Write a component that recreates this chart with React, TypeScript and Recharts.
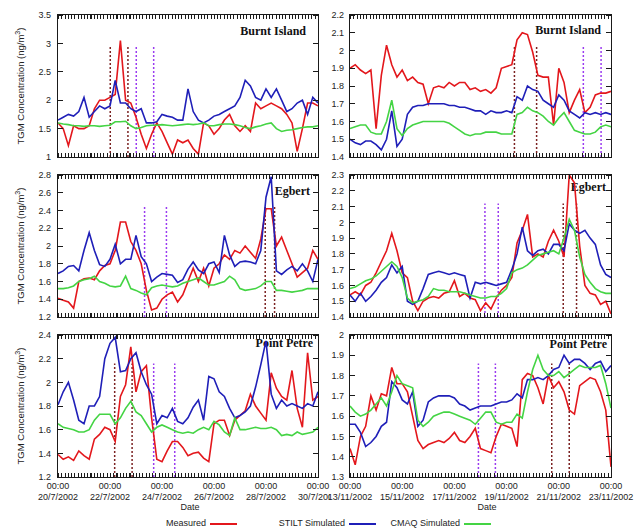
import React from "react";
import { LineChart, Line, XAxis, YAxis, ReferenceLine } from "recharts";

const RED = "#e3171c";
const BLUE = "#1f1fb8";
const GREEN = "#44d444";
const EVENT_RED = "#7b2222";
const EVENT_PURPLE = "#9a3cf0";
const INK = "#1a1a1a";
const SANS = '"Liberation Sans", Arial, sans-serif';
const PLOT_H = 142;

// x axis: days since the first 00:00 tick, samples every 0.2 day
const dayTicks = [0, 2, 4, 6, 8, 10];
const summerDates = ["20/7/2002", "22/7/2002", "24/7/2002", "26/7/2002", "28/7/2002", "30/7/2002"];
const autumnDates = ["13/11/2002", "15/11/2002", "17/11/2002", "19/11/2002", "21/11/2002", "23/11/2002"];
const MINOR_PER_AXIS = 80; // 3-hourly marks along top and bottom

// Burnt Island, July
const burntSumMeasured = [1.6, 1.5, 1.2, 1.55, 1.5, 1.5, 1.55, 1.85, 2.0, 2.0, 2.05, 2.1, 3.05, 2.0, 1.95, 1.7, 1.4, 1.15, 1.4, 1.6, 1.45, 1.25, 1.05, 1.3, 1.25, 1.3, 1.15, 1.05, 1.6, 1.55, 1.4, 1.5, 1.65, 1.75, 1.55, 1.45, 1.55, 1.45, 1.95, 1.85, 1.9, 1.95, 1.9, 1.85, 1.75, 1.6, 1.1, 1.5, 1.95, 1.95, 1.9];
const burntSumStilt = [1.65, 1.7, 1.75, 1.72, 1.8, 2.05, 1.7, 1.8, 1.9, 1.85, 1.9, 2.35, 1.95, 1.95, 1.85, 1.8, 1.85, 1.6, 1.6, 1.62, 1.75, 1.72, 1.7, 1.65, 1.65, 2.2, 1.8, 1.65, 1.6, 1.65, 1.72, 1.75, 1.8, 1.85, 1.9, 2.05, 2.35, 2.25, 2.05, 2.0, 2.2, 2.05, 2.2, 2.0, 1.8, 1.85, 1.95, 2.0, 1.75, 2.05, 1.95];
const burntSumCmaq = [1.6, 1.58, 1.57, 1.55, 1.55, 1.54, 1.55, 1.55, 1.54, 1.55, 1.56, 1.62, 1.62, 1.63, 1.55, 1.5, 1.52, 1.55, 1.56, 1.56, 1.57, 1.56, 1.55, 1.56, 1.57, 1.58, 1.57, 1.58, 1.6, 1.55, 1.55, 1.57, 1.58, 1.58, 1.57, 1.55, 1.52, 1.5, 1.53, 1.55, 1.58, 1.6, 1.5, 1.45, 1.47, 1.48, 1.5, 1.52, 1.53, 1.53, 1.55];
const burntSumRed = [2.01, 2.69];
const burntSumPurple = [3.01, 3.68];

// Burnt Island, November
const burntNovMeasured = [1.9, 1.92, 1.89, 1.87, 1.89, 1.56, 1.86, 2.03, 1.92, 1.85, 1.89, 1.83, 1.85, 1.82, 1.81, 1.7, 1.79, 1.8, 1.79, 1.82, 1.8, 1.82, 1.82, 1.78, 1.79, 1.77, 1.78, 1.76, 1.79, 1.9, 1.91, 1.92, 2.06, 2.1, 2.09, 1.99, 1.86, 1.85, 1.85, 1.58, 1.9, 1.82, 1.65, 1.72, 1.78, 1.65, 1.68, 1.75, 1.76, 1.76, 1.77];
const burntNovStilt = [1.5, 1.48, 1.47, 1.49, 1.49, 1.47, 1.44, 1.5, 1.66, 1.46, 1.5, 1.64, 1.68, 1.69, 1.69, 1.7, 1.7, 1.7, 1.7, 1.69, 1.69, 1.68, 1.68, 1.67, 1.66, 1.66, 1.64, 1.66, 1.65, 1.65, 1.66, 1.65, 1.74, 1.72, 1.8, 1.78, 1.77, 1.72, 1.7, 1.68, 1.75, 1.72, 1.66, 1.64, 1.62, 1.65, 1.64, 1.65, 1.64, 1.65, 1.64];
const burntNovCmaq = [1.56, 1.57, 1.58, 1.58, 1.54, 1.53, 1.53, 1.6, 1.72, 1.56, 1.52, 1.56, 1.58, 1.59, 1.6, 1.6, 1.6, 1.6, 1.6, 1.59, 1.57, 1.55, 1.53, 1.52, 1.53, 1.53, 1.54, 1.54, 1.54, 1.53, 1.53, 1.53, 1.64, 1.65, 1.68, 1.66, 1.65, 1.63, 1.6, 1.58, 1.62, 1.65, 1.6, 1.55, 1.54, 1.53, 1.53, 1.54, 1.57, 1.58, 1.57];
const burntNovRed = [6.3, 7.15];
const burntNovPurple = [8.94, 9.62];

// Egbert, July
const egbertSumMeasured = [1.41, 1.39, 1.37, 1.3, 1.6, 1.63, 1.64, 1.62, 1.72, 1.78, 1.8, 1.95, 2.27, 2.27, 2.05, 1.95, 1.8, 1.5, 1.28, 1.3, 1.4, 1.45, 1.48, 1.37, 1.45, 1.6, 1.75, 1.6, 1.75, 1.55, 1.75, 1.8, 1.9, 1.85, 1.95, 1.92, 2.0, 1.93, 1.86, 2.08, 2.42, 2.42, 2.0, 2.1, 1.95, 1.8, 1.65, 1.7, 1.75, 1.95, 1.85];
const egbertSumStilt = [1.69, 1.72, 1.77, 1.78, 1.72, 1.95, 2.15, 1.95, 1.79, 1.77, 1.85, 2.02, 1.8, 1.85, 1.85, 2.12, 1.88, 1.8, 1.6, 1.65, 1.69, 1.68, 1.67, 1.59, 1.62, 1.74, 1.82, 1.73, 1.69, 1.8, 1.82, 1.7, 2.12, 1.9, 1.77, 1.82, 1.83, 1.82, 1.8, 1.95, 2.55, 2.78, 1.72, 1.68, 1.73, 1.77, 1.72, 1.8, 1.72, 1.6, 1.85];
const egbertSumCmaq = [1.52, 1.52, 1.53, 1.55, 1.6, 1.62, 1.63, 1.66, 1.6, 1.58, 1.55, 1.54, 1.55, 1.66, 1.52, 1.5, 1.47, 1.45, 1.53, 1.55, 1.56, 1.55, 1.54, 1.55, 1.58, 1.6, 1.62, 1.64, 1.6, 1.56, 1.56, 1.58, 1.6, 1.66, 1.62, 1.52, 1.5, 1.51, 1.52, 1.55, 1.6, 1.6, 1.5, 1.5, 1.49, 1.48, 1.49, 1.5, 1.52, 1.52, 1.52];
const egbertSumRed = [7.97, 8.33];
const egbertSumPurple = [3.33, 4.17];

// Egbert, November
const egbertNovMeasured = [1.54, 1.56, 1.54, 1.6, 1.62, 1.68, 1.75, 1.82, 1.93, 1.82, 1.68, 1.65, 1.5, 1.44, 1.5, 1.52, 1.53, 1.52, 1.55, 1.56, 1.63, 1.53, 1.55, 1.52, 1.51, 1.44, 1.49, 1.45, 1.52, 1.57, 1.6, 1.65, 1.87, 1.95, 2.05, 1.78, 1.8, 1.78, 1.88, 1.95, 1.88, 1.78, 2.3, 2.25, 1.85, 1.6, 1.55, 1.54, 1.48, 1.5, 1.42];
const egbertNovStilt = [1.54, 1.5, 1.55, 1.5, 1.53, 1.57, 1.62, 1.65, 1.73, 1.68, 1.72, 1.5, 1.48, 1.5, 1.58, 1.67, 1.68, 1.69, 1.68, 1.67, 1.68, 1.67, 1.66, 1.52, 1.62, 1.61, 1.62, 1.61, 1.6, 1.61, 1.62, 1.7, 1.8, 1.97, 1.82, 1.79, 1.82, 1.83, 1.8, 1.86, 1.86, 1.82, 1.99, 1.95, 1.93, 1.95, 1.9, 1.86, 1.73, 1.67, 1.65];
const egbertNovCmaq = [1.58, 1.59, 1.61, 1.63, 1.64, 1.66, 1.69, 1.72, 1.75, 1.72, 1.65, 1.52, 1.49, 1.5, 1.51, 1.53, 1.58, 1.57, 1.57, 1.56, 1.56, 1.56, 1.55, 1.54, 1.53, 1.52, 1.52, 1.53, 1.53, 1.55, 1.58, 1.68, 1.7, 1.71, 1.73, 1.76, 1.79, 1.8, 1.81, 1.82, 1.8, 1.9, 2.02, 1.95, 1.78, 1.67, 1.62, 1.58, 1.56, 1.55, 1.55];
const egbertNovRed = [8.17, 8.68];
const egbertNovPurple = [5.17, 5.68];

// Point Petre, July
const petreSumMeasured = [1.39, 1.35, 1.37, 1.34, 1.42, 1.38, 1.35, 1.52, 1.56, 1.62, 1.6, 1.5, 1.88, 1.98, 2.3, 1.92, 2.09, 2.14, 1.7, 1.35, 1.33, 1.42, 1.5, 1.5, 1.45, 1.38, 1.4, 1.41, 1.36, 1.33, 1.65, 1.68, 1.68, 1.55, 1.68, 1.72, 1.76, 1.9, 1.8, 1.74, 1.68, 2.08, 1.95, 1.88, 1.85, 2.1, 1.78, 1.62, 2.25, 1.85, 1.88];
const petreSumStilt = [1.81, 1.92, 2.0, 1.85, 1.68, 1.65, 1.8, 1.8, 1.88, 2.2, 2.33, 2.38, 2.09, 2.1, 2.2, 2.25, 2.09, 1.98, 1.9, 1.65, 1.72, 1.7, 1.78, 1.67, 1.65, 1.7, 1.79, 1.85, 1.68, 2.05, 2.03, 1.92, 1.88, 1.78, 1.7, 1.72, 1.75, 1.8, 1.96, 2.15, 2.35, 1.9, 1.78, 1.85, 1.8, 1.82, 1.8, 1.78, 1.82, 1.8, 1.92];
const petreSumCmaq = [1.65, 1.62, 1.61, 1.6, 1.58, 1.58, 1.6, 1.68, 1.73, 1.73, 1.73, 1.65, 1.7, 1.78, 1.84, 1.75, 1.72, 1.65, 1.58, 1.62, 1.64, 1.62, 1.6, 1.58, 1.57, 1.58, 1.57, 1.6, 1.62, 1.6, 1.67, 1.64, 1.58, 1.55, 1.7, 1.6, 1.6, 1.61, 1.62, 1.61, 1.61, 1.62, 1.6, 1.55, 1.56, 1.55, 1.58, 1.56, 1.57, 1.58, 1.62];
const petreSumRed = [2.18, 2.85];
const petreSumPurple = [3.68, 4.49];

// Point Petre, November
const petreNovMeasured = [1.44, 1.36, 1.5, 1.55, 1.7, 1.63, 1.71, 1.7, 1.84, 1.76, 1.76, 1.72, 1.6, 1.48, 1.44, 1.46, 1.47, 1.48, 1.47, 1.49, 1.52, 1.48, 1.47, 1.5, 1.54, 1.44, 1.43, 1.42, 1.5, 1.56, 1.55, 1.54, 1.45, 1.78, 1.81, 1.8, 1.74, 1.66, 1.8, 1.74, 1.77, 1.72, 1.63, 1.61, 1.75, 1.77, 1.79, 1.78, 1.72, 1.63, 1.35];
const petreNovStilt = [1.56, 1.56, 1.52, 1.45, 1.47, 1.5, 1.55, 1.57, 1.77, 1.74, 1.68, 1.66, 1.72, 1.55, 1.58, 1.67, 1.69, 1.7, 1.7, 1.7, 1.69, 1.66, 1.65, 1.63, 1.64, 1.65, 1.65, 1.65, 1.66, 1.67, 1.67, 1.68, 1.71, 1.69, 1.78, 1.78, 1.79, 1.78, 1.8, 1.83, 1.84, 1.9, 1.86, 1.88, 1.88, 1.86, 1.83, 1.86, 1.87, 1.82, 1.85];
const petreNovCmaq = [1.65, 1.62, 1.6, 1.61, 1.63, 1.66, 1.69, 1.65, 1.72, 1.8, 1.76, 1.75, 1.74, 1.58, 1.55, 1.57, 1.6, 1.61, 1.62, 1.62, 1.61, 1.6, 1.59, 1.58, 1.56, 1.59, 1.62, 1.62, 1.57, 1.56, 1.57, 1.57, 1.61, 1.59, 1.72, 1.83, 1.9, 1.83, 1.8, 1.8, 1.82, 1.79, 1.81, 1.83, 1.85, 1.84, 1.84, 1.84, 1.85, 1.76, 1.64];
const petreNovRed = [7.73, 8.4];
const petreNovPurple = [4.92, 5.57];

const buildRows = (m: number[], s: number[], c: number[]) =>
  m.map((v, i) => ({ t: Math.round(i * 2) / 10, measured: v, stilt: s[i], cmaq: c[i] }));

function DateTick(props: any) {
  const { x, y, payload, dates } = props;
  const label = dates[Math.round(payload.value / 2)];
  return (
    <text x={x} y={y} textAnchor="middle" fontSize={9} fill="#222" fontFamily={SANS}>
      <tspan x={x} dy={12}>00:00</tspan>
      <tspan x={x} dy={11}>{label}</tspan>
    </text>
  );
}

// box round the plot with inward tick marks (3-hourly on x, at each label on y)
function PlotFrame({ left, top, width, yDomain, yTicks }: any) {
  const [lo, hi] = yDomain;
  const step = width / MINOR_PER_AXIS;
  const stripes = `repeating-linear-gradient(to right, ${INK} 0px, ${INK} 1px, transparent 1px, transparent ${step}px)`;
  return (
    <div style={{ position: "absolute", left, top, width, height: PLOT_H, pointerEvents: "none" }}>
      <div style={{ position: "absolute", left: -1, top: -1, width, height: PLOT_H, border: `1px solid ${INK}` }} />
      <div style={{ position: "absolute", left: 0, top: 0, width: width + 1, height: 4, background: stripes }} />
      <div style={{ position: "absolute", left: 0, top: PLOT_H - 4, width: width + 1, height: 4, background: stripes }} />
      {yTicks.map((v: number) => {
        const ty = ((hi - v) / (hi - lo)) * PLOT_H;
        return (
          <React.Fragment key={v}>
            <div style={{ position: "absolute", left: 0, top: ty - 0.5, width: 5, height: 1, background: INK }} />
            <div style={{ position: "absolute", left: width - 5, top: ty - 0.5, width: 5, height: 1, background: INK }} />
          </React.Fragment>
        );
      })}
    </div>
  );
}

function Panel(p: any) {
  const isLeft = p.col === "L";
  const width = isLeft ? 330 : 321;
  const mLeft = isLeft ? 18 : 6;
  const yW = isLeft ? 40 : 24;
  const mRight = isLeft ? 12 : 30;
  const plotW = width - mLeft - yW - mRight;
  const tickSize = isLeft ? 5 : 4;
  // extra room under the upper rows so the lowest y label is not clipped
  const height = p.bottom ? 187 : 168;
  const plotTop = p.top + 15;
  const plotLeft = p.left + mLeft + yW;
  const plotRight = p.left + width - mRight;
  const lo = p.yDomain[0];
  const rows = buildRows(p.m, p.s, p.c);
  return (
    <>
      <div
        style={{
          position: "absolute",
          left: plotRight - p.titleRight - 150,
          width: 150,
          top: plotTop + p.titleY - 8,
          lineHeight: "16px",
          textAlign: "right",
          font: 'bold 12px "Liberation Serif", "Times New Roman", serif',
          color: "#111",
        }}
      >
        {p.title}
      </div>
      <div style={{ position: "absolute", left: p.left, top: p.top }}>
        <LineChart
          width={width}
          height={height}
          data={rows}
          margin={{ top: 15, right: mRight, bottom: p.bottom ? 0 : 11, left: mLeft }}
        >
          <XAxis
            xAxisId="main"
            dataKey="t"
            type="number"
            domain={[0, 10]}
            ticks={dayTicks}
            allowDataOverflow
            hide={!p.bottom}
            height={p.bottom ? 30 : 0}
            axisLine={false}
            tickLine={false}
            tickSize={0}
            tickMargin={0}
            interval={0}
            tick={(tp: any) => <DateTick {...tp} dates={p.dates} />}
          />
          <YAxis
            yAxisId="main"
            type="number"
            domain={p.yDomain}
            ticks={p.yTicks}
            allowDataOverflow
            width={yW}
            axisLine={false}
            tickLine={false}
            tickSize={tickSize}
            tickMargin={2}
            interval={0}
            tick={{ fontSize: 9, fill: "#222", fontFamily: SANS }}
          />
          {p.red.map((d: number) => (
            <ReferenceLine key={"r" + d} xAxisId="main" yAxisId="main" segment={[{ x: d, y: lo }, { x: d, y: p.eventTop }]} stroke={EVENT_RED} strokeWidth={1.5} strokeDasharray="2 2" />
          ))}
          {p.purple.map((d: number) => (
            <ReferenceLine key={"p" + d} xAxisId="main" yAxisId="main" segment={[{ x: d, y: lo }, { x: d, y: p.eventTop }]} stroke={EVENT_PURPLE} strokeWidth={1.5} strokeDasharray="2 2" />
          ))}
          <Line xAxisId="main" yAxisId="main" dataKey="measured" stroke={RED} strokeWidth={1.6} dot={false} isAnimationActive={false} />
          <Line xAxisId="main" yAxisId="main" dataKey="stilt" stroke={BLUE} strokeWidth={1.6} dot={false} isAnimationActive={false} />
          <Line xAxisId="main" yAxisId="main" dataKey="cmaq" stroke={GREEN} strokeWidth={1.6} dot={false} isAnimationActive={false} />
        </LineChart>
      </div>
      <PlotFrame left={plotLeft} top={plotTop} width={plotW} yDomain={p.yDomain} yTicks={p.yTicks} />
    </>
  );
}

function YTitle({ y }: { y: number }) {
  return (
    <div
      style={{
        position: "absolute",
        left: 20,
        top: y,
        transform: "translate(-50%, -50%) rotate(-90deg)",
        whiteSpace: "nowrap",
        font: `9.5px ${SANS}`,
        color: "#222",
      }}
    >
      TGM Concentration (ng/m<sup style={{ fontSize: "7px" }}>3</sup>)
    </div>
  );
}

function LegendItem({ label, color, textRight }: { label: string; color: string; textRight: number }) {
  return (
    <>
      <div style={{ position: "absolute", left: textRight - 120, width: 120, top: 517, textAlign: "right", font: `9px ${SANS}`, color: "#222", lineHeight: "12px" }}>
        {label}
      </div>
      <div style={{ position: "absolute", left: textRight + 4, width: 27, top: 523, height: 2, background: color }} />
    </>
  );
}

export default function App() {
  return (
    <div style={{ position: "absolute", left: 0, top: 0, width: 641, height: 529, background: "#fff", overflow: "hidden" }}>
      <YTitle y={86} />
      <YTitle y={246} />
      <YTitle y={406} />
      <Panel col="L" left={0} top={0} bottom={false} m={burntSumMeasured} s={burntSumStilt} c={burntSumCmaq} yDomain={[1, 3.5]} yTicks={[1, 1.5, 2, 2.5, 3, 3.5]} red={burntSumRed} purple={burntSumPurple} eventTop={2.97} title="Burnt Island" titleRight={12} titleY={16.5} dates={summerDates} />
      <Panel col="R" left={320} top={0} bottom={false} m={burntNovMeasured} s={burntNovStilt} c={burntNovCmaq} yDomain={[1.4, 2.2]} yTicks={[1.4, 1.5, 1.6, 1.7, 1.8, 1.9, 2, 2.1, 2.2]} red={burntNovRed} purple={burntNovPurple} eventTop={2.03} title="Burnt Island" titleRight={10} titleY={15.5} dates={autumnDates} />
      <Panel col="L" left={0} top={160} bottom={false} m={egbertSumMeasured} s={egbertSumStilt} c={egbertSumCmaq} yDomain={[1.2, 2.8]} yTicks={[1.2, 1.4, 1.6, 1.8, 2, 2.2, 2.4, 2.6, 2.8]} red={egbertSumRed} purple={egbertSumPurple} eventTop={2.46} title="Egbert" titleRight={8} titleY={17} dates={summerDates} />
      <Panel col="R" left={320} top={160} bottom={false} m={egbertNovMeasured} s={egbertNovStilt} c={egbertNovCmaq} yDomain={[1.4, 2.3]} yTicks={[1.4, 1.5, 1.6, 1.7, 1.8, 1.9, 2, 2.1, 2.2, 2.3]} red={egbertNovRed} purple={egbertNovPurple} eventTop={2.12} title="Egbert" titleRight={5} titleY={12.5} dates={autumnDates} />
      <Panel col="L" left={0} top={320} bottom={true} m={petreSumMeasured} s={petreSumStilt} c={petreSumCmaq} yDomain={[1.2, 2.4]} yTicks={[1.2, 1.4, 1.6, 1.8, 2, 2.2, 2.4]} red={petreSumRed} purple={petreSumPurple} eventTop={2.16} title="Point Petre" titleRight={5} titleY={9} dates={summerDates} />
      <Panel col="R" left={320} top={320} bottom={true} m={petreNovMeasured} s={petreNovStilt} c={petreNovCmaq} yDomain={[1.3, 2.0]} yTicks={[1.3, 1.4, 1.5, 1.6, 1.7, 1.8, 1.9, 2]} red={petreNovRed} purple={petreNovPurple} eventTop={1.86} title="Point Petre" titleRight={4} titleY={9.5} dates={autumnDates} />
      <div style={{ position: "absolute", left: 170, width: 40, top: 501, textAlign: "center", font: `9px ${SANS}`, color: "#222", lineHeight: "12px" }}>Date</div>
      <div style={{ position: "absolute", left: 467, width: 40, top: 501, textAlign: "center", font: `9px ${SANS}`, color: "#222", lineHeight: "12px" }}>Date</div>
      <LegendItem label="Measured" color={RED} textRight={206} />
      <LegendItem label="STILT Simulated" color={BLUE} textRight={345} />
      <LegendItem label="CMAQ Simulated" color={GREEN} textRight={460} />
    </div>
  );
}
